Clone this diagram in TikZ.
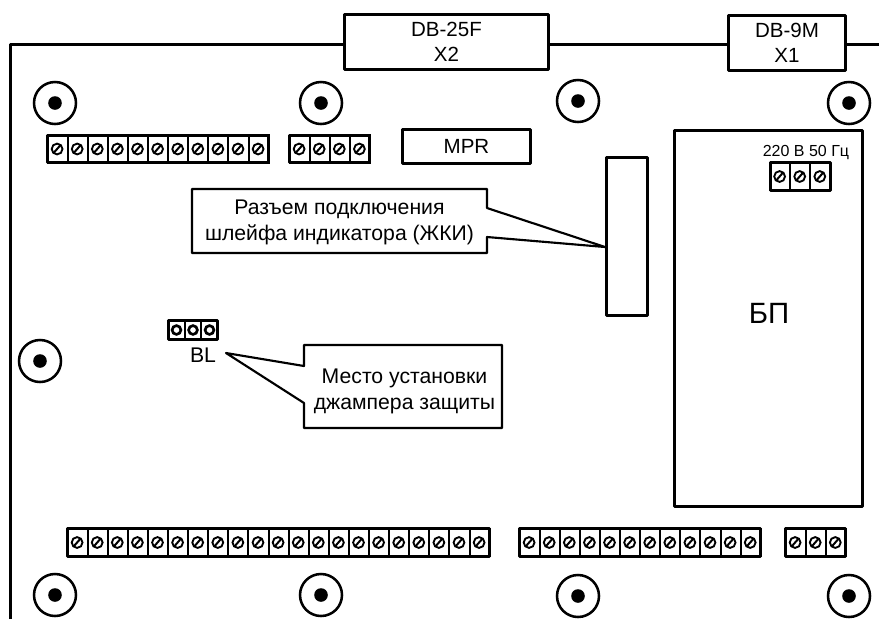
\documentclass[tikz,border=0pt]{standalone}
\usepackage{fontspec}
\setmainfont{Liberation Sans}
\def\px{0.75pt}
\tikzset{
    board/.style={line width=2.25pt,line join=round},
    part/.style={draw,line width=2.25pt,line join=round,inner sep=0pt,align=center,font=\fontsize{15.4}{19}\selectfont},
    note/.style={line width=1.6pt,line join=round},
    label/.style={inner sep=0pt,align=center,font=\fontsize{15.9}{19.4}\selectfont},
}
% x, y, number of cells
\newcommand{\termblock}[3]{
    \foreach \c in {1,...,#3} {
        \draw[line width=1.5pt] ({#1+20.1*(\c-1)},#2) rectangle ({#1+20.1*\c},#2+27.5);
        \draw[line width=1.4pt] ({#1+20.1*\c-10.5},#2+14) circle (5.4*\px);
        \draw[line width=1.5pt] ({#1+20.1*\c-14},#2+18) -- ({#1+20.1*\c-7},#2+10);
    }
    \draw[board] (#1,#2) rectangle ({#1+20.1*#3},#2+27.5);
}
\newcommand{\mounthole}[2]{
    \draw[line width=1.9pt] (#1,#2) circle (21*\px);
    \fill (#1,#2) circle (6.8*\px);
}
\begin{document}
\begin{tikzpicture}[x=\px,y=-\px]
    \useasboundingbox (0,0) rectangle (879,619);
    % Connectors %
    \node[part,minimum width=204*\px,minimum height=55*\px] (xtwo) at (446.5,42) {DB-25F\\X2};
    \node[part,minimum width=117*\px,minimum height=55*\px] (xone) at (787,42.5) {DB-9M\\X1};

    % Board %
    \coordinate (corner) at (10,44);
    \coordinate (bottomleft) at (10,619);
    \coordinate (rightend) at (879,44);
    \draw[board] (bottomleft) -- (corner) -- (corner -| xtwo.west);
    \draw[board] (corner -| xtwo.east) -- (corner -| xone.west);
    \draw[board] (corner -| xone.east) -- (rightend);

    % Mounting holes %
    \foreach \x/\y in {55/103,321/103,578/101,849/103,40/361,55/595,321/595,578/596,849/596} {
        \mounthole{\x}{\y}
    }

    % Terminals %
    \termblock{47.5}{135}{11}
    \termblock{289.5}{135}{4}
    \termblock{770}{162.5}{3}
    \termblock{67.5}{528.5}{21}
    \termblock{519.5}{528.5}{12}
    \termblock{785.5}{528.5}{3}

    % Parts %
    \node[part,minimum width=128*\px,minimum height=34*\px] (mpr) at (466.5,146.5) {MPR};
    \node[part,minimum width=41*\px,minimum height=158*\px] (zki) at (627,236) {};
    \node[part,minimum width=188*\px,minimum height=376*\px] (bp) at (768.5,318) {};
    \node[inner sep=0pt,font=\fontsize{22}{26}\selectfont] (bptext) at (769,313) {БП};
    \node[inner sep=0pt,font=\fontsize{12}{14}\selectfont] (mains) at (806,153) {220 В 50 Гц};

    % Jumper %
    \draw[board] (168.5,320.5) rectangle (217.5,339.5);
    \foreach \x in {185,201}
        \draw[line width=1.3pt] (\x,320.5) -- (\x,339.5);
    \foreach \x in {176.5,193,209.5}
        \draw[line width=2pt] (\x,330) circle (4.4*\px);
    \node[label] (bl) at (203,355) {BL};

    % Notes %
    \coordinate (zkitip) at (zki.west |- 0,247);
    \coordinate (bltip) at (226,353);
    \draw[note] (192,189) -- (487,189) -- (487,208) -- (zkitip) -- (487,237) -- (487,253) -- (192,253) -- cycle;
    \draw[note] (304,345) -- (502,345) -- (502,428) -- (304,428) -- (304,403) -- (bltip) -- (304,366) -- cycle;
    \node[label] (zkitext) at (339.5,222) {Разъем подключения\\шлейфа индикатора (ЖКИ)};
    \node[label] (bltext) at (404.5,391) {Место установки\\джампера защиты};
\end{tikzpicture}
\end{document}
